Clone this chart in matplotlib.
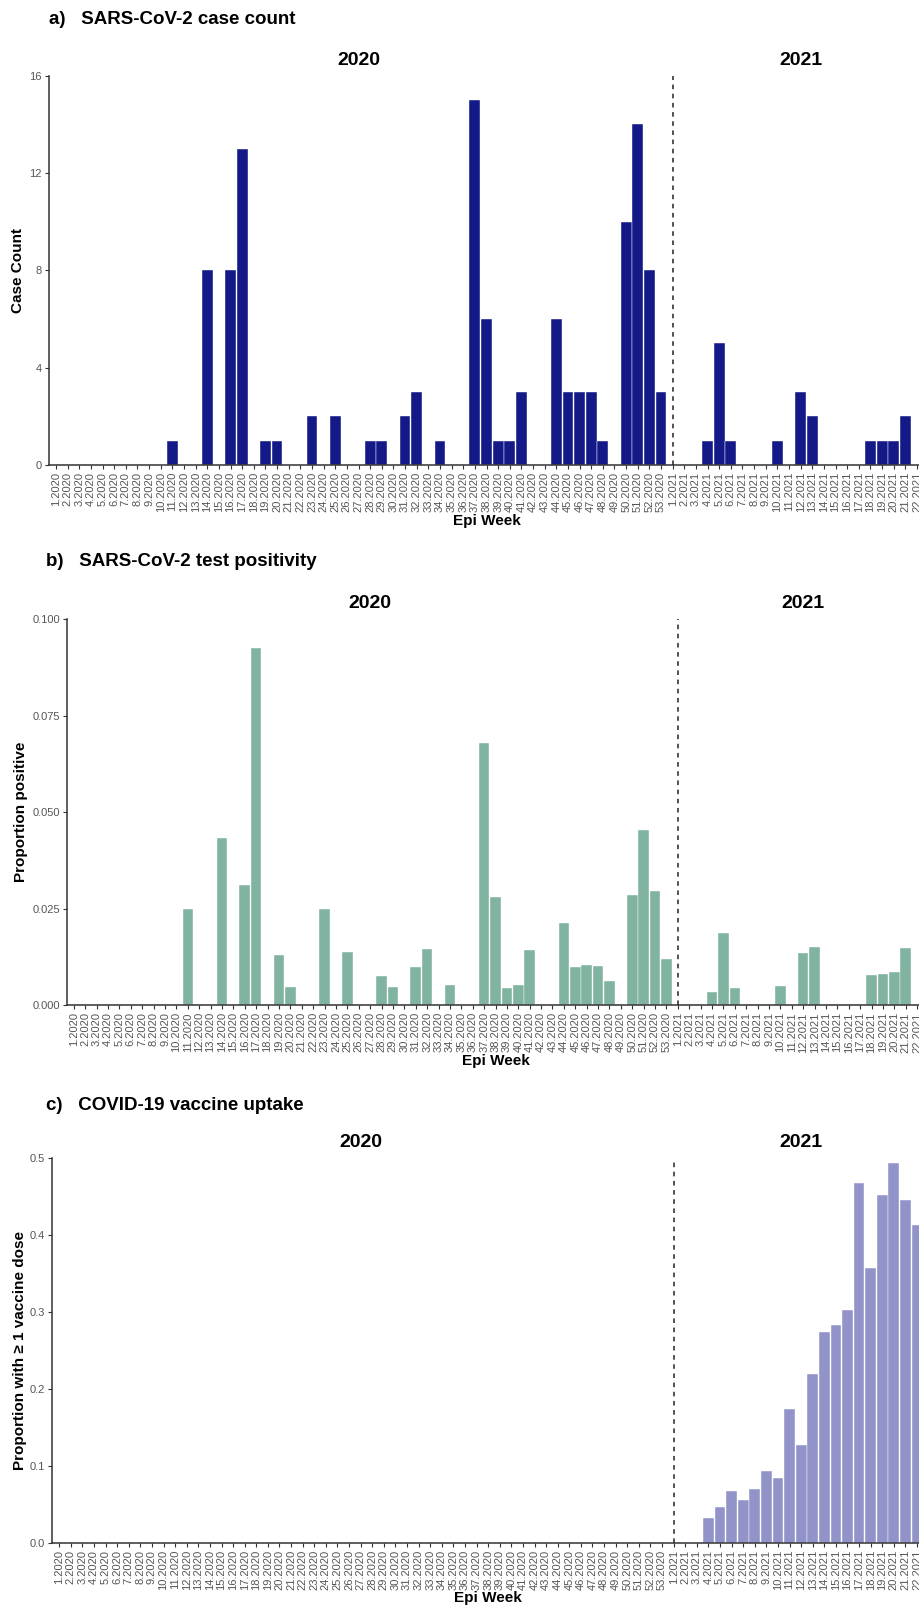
import matplotlib
matplotlib.use("Agg")
import matplotlib.pyplot as plt
import numpy as np

plt.rcParams['font.family'] = ['Liberation Sans', 'DejaVu Sans']

# epi week labels
weeks = [f"{w}.2020" for w in range(1, 54)] + [f"{w}.2021" for w in range(1, 23)]

# a) case counts
cases_2020 = [0, 0, 0, 0, 0, 0, 0, 0, 0, 0,
              1, 0, 0, 8, 0, 8, 13, 0, 1, 1,
              0, 0, 2, 0, 2, 0, 0, 1, 1, 0,
              2, 3, 0, 1, 0, 0, 15, 6, 1, 1,
              3, 0, 0, 6, 3, 3, 3, 1, 0, 10,
              14, 8, 3]
cases_2021 = [0, 0, 0, 1, 5, 1, 0, 0, 0, 1,
              0, 3, 2, 0, 0, 0, 0, 1, 1, 1,
              2, 0]

# b) test positivity
pos_2020 = [0, 0, 0, 0, 0, 0, 0, 0, 0, 0,
            0.025, 0, 0, 0.0434, 0, 0.0311, 0.0924, 0, 0.0130, 0.0047,
            0, 0, 0.025, 0, 0.0139, 0, 0, 0.0076, 0.0048, 0,
            0.0098, 0.0145, 0, 0.0052, 0, 0, 0.0678, 0.0280, 0.0044, 0.0053,
            0.0143, 0, 0, 0.0212, 0.0100, 0.0104, 0.0102, 0.0063, 0, 0.0285,
            0.0454, 0.0296, 0.0119]
pos_2021 = [0, 0, 0, 0.0034, 0.0186, 0.0044, 0, 0, 0, 0.0051,
            0, 0.0135, 0.0152, 0, 0, 0, 0, 0.0078, 0.0081, 0.0087,
            0.0148, 0]

# c) vaccine uptake (none in 2020)
vax_2020 = [0] * 53
vax_2021 = [0, 0, 0, 0.0316, 0.0465, 0.0675, 0.0561, 0.0697, 0.0933, 0.0846,
            0.173, 0.1275, 0.2187, 0.2734, 0.283, 0.302, 0.4667, 0.357, 0.451, 0.493,
            0.4448, 0.412]

W, H = 920, 1609
fig = plt.figure(figsize=(W / 100, H / 100), dpi=100)

def px_axes(left, top, right, bottom):
    return fig.add_axes([left / W, 1 - bottom / H, (right - left) / W, (bottom - top) / H])

def panel(ax, vals, color, ylabel, yticks, ylabels, ylab_x):
    x = np.arange(1, len(vals) + 1)
    ax.bar(x, vals, width=0.93, color=color, edgecolor='white', linewidth=0.3, zorder=2)
    ax.set_xlim(0.4, len(vals) + 0.6)
    ax.set_ylim(yticks[0], yticks[-1])
    ax.set_xticks(x)
    ax.set_xticklabels(weeks, rotation=90, fontsize=8, color='#555555')
    ax.set_yticks(yticks)
    ax.set_yticklabels(ylabels, fontsize=8, color='#555555')
    ax.tick_params(axis='both', length=3, width=0.8, color='#333333', pad=2)
    for s in ['top', 'right']:
        ax.spines[s].set_visible(False)
    for s in ['left', 'bottom']:
        ax.spines[s].set_linewidth(1.1)
        ax.spines[s].set_color('#333333')
    ax.axvline(54, color='#222222', linestyle=(0, (3, 3)), linewidth=1.1, zorder=3)
    ax.set_xlabel('Epi Week', fontsize=11, fontweight='bold', labelpad=1)
    ax.set_ylabel(ylabel, fontsize=11, fontweight='bold')
    bb = ax.get_position()
    # label anchor is its right edge once rotated
    ax.yaxis.set_label_coords((ylab_x + 7) / W / bb.width - bb.x0 / bb.width, 0.5)
    for xc, yr in [(27, '2020'), (65, '2021')]:
        ax.annotate(yr, xy=(xc, 1), xycoords=('data', 'axes fraction'),
                    xytext=(0, 11), textcoords='offset points',
                    ha='center', va='center', fontsize=14, fontweight='bold')

ax1 = px_axes(49, 75.7, 924, 465)
panel(ax1, cases_2020 + cases_2021, '#131A87', 'Case Count',
      [0, 4, 8, 12, 16], ['0', '4', '8', '12', '16'], 18)
fig.text(49 / W, 1 - 20 / H, 'a)   SARS-CoV-2 case count', fontsize=13.5,
         fontweight='bold', va='center', ha='left')

ax2 = px_axes(67, 619, 924, 1005.3)
panel(ax2, pos_2020 + pos_2021, '#80B3A0', 'Proportion positive',
      [0, 0.025, 0.05, 0.075, 0.1], ['0.000', '0.025', '0.050', '0.075', '0.100'], 21)
fig.text(46 / W, 1 - 562 / H, 'b)   SARS-CoV-2 test positivity', fontsize=13.5,
         fontweight='bold', va='center', ha='left')

ax3 = px_axes(52.3, 1157.7, 924, 1542.7)
panel(ax3, vax_2020 + vax_2021, '#9294C9', 'Proportion with \u2265 1 vaccine dose',
      [0, 0.1, 0.2, 0.3, 0.4, 0.5], ['0.0', '0.1', '0.2', '0.3', '0.4', '0.5'], 20)
fig.text(46 / W, 1 - 1105 / H, 'c)   COVID-19 vaccine uptake', fontsize=13.5,
         fontweight='bold', va='center', ha='left')

fig.savefig('out.png', dpi=100)
